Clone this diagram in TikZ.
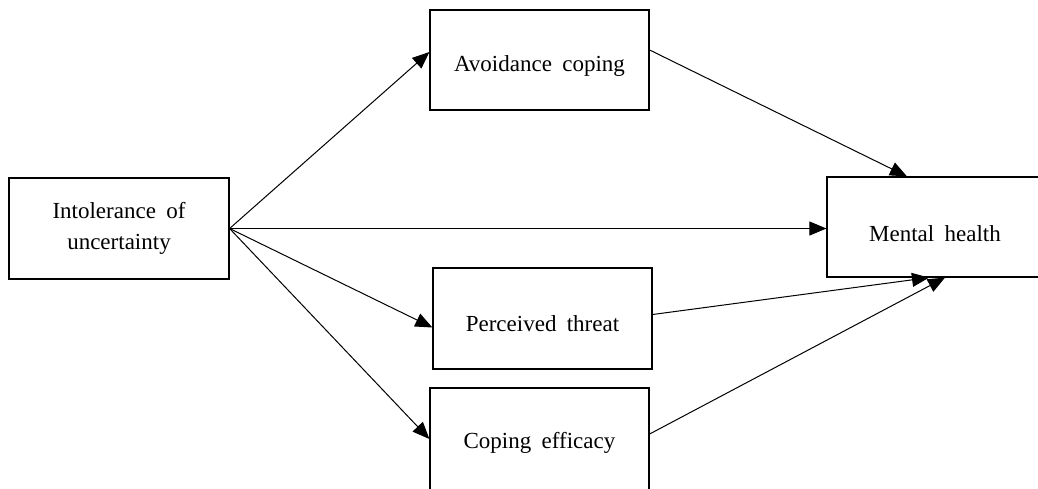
\documentclass[tikz,border=0pt]{standalone}
\usepackage{fontspec}
\setmainfont{Liberation Serif}
\usetikzlibrary{arrows.meta}

\newcommand{\gap}{\hspace{0.45em}}

\tikzset{
  var/.style={draw, line width=0.6pt, align=center, inner sep=0pt,
    minimum width=109.5pt, minimum height=50pt,
    font=\fontsize{11.5}{15.5}\selectfont},
  path/.style={line width=0.5pt, -{Triangle[length=8.5pt,width=7pt]}}
}

\begin{document}
\begin{tikzpicture}[x=0.5pt, y=-0.5pt]
    \useasboundingbox (0,0) rectangle (1038,488);
    \clip (0,0) rectangle (1038,488);
    % variables
    \node[var, minimum width=110pt, minimum height=50.5pt] (iou) at (119,228.5) {Intolerance\gap of\\uncertainty};
    \node[var, text height=11.1pt, text depth=0pt] (avoid) at (539.5,60) {Avoidance\gap coping};
    \node[var, minimum height=50.5pt, text height=12.6pt, text depth=0pt] (threat) at (542.5,318.5) {Perceived\gap threat};
    \node[var, minimum height=51pt, text height=9.1pt, text depth=0pt] (efficacy) at (539.5,439) {Coping\gap efficacy};
    \node[var, minimum width=108pt, text height=14.6pt, text depth=0pt] (mental) at (935,227) {Mental\gap health};
    % paths
    \draw[path] (iou.east) -- ([yshift=4pt]avoid.west);
    \draw[path] (iou.east) -- (iou.east -| mental.west);
    \draw[path] (iou.east) -- ([yshift=-4.5pt]threat.west);
    \draw[path] (iou.east) -- (efficacy.west);
    \draw[path] ([yshift=5pt]avoid.east) -- ([xshift=-14pt]mental.north);
    \draw[path] ([yshift=2pt]threat.east) -- ([xshift=-3pt]mental.south);
    \draw[path] ([yshift=2.5pt]efficacy.east) -- ([xshift=5pt]mental.south);
\end{tikzpicture}
\end{document}
